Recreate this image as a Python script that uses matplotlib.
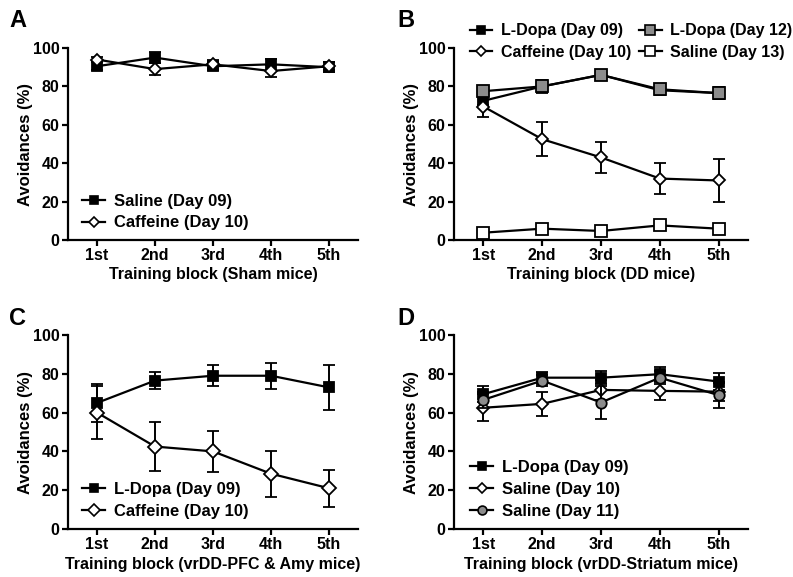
import numpy as np
import matplotlib
matplotlib.use("Agg")
import matplotlib.pyplot as plt
from matplotlib.lines import Line2D

plt.rcParams['font.family'] = ['Liberation Sans', 'DejaVu Sans']
plt.rcParams['font.weight'] = 'bold'

blocks = ["1st", "2nd", "3rd", "4th", "5th"]

# A - Sham mice
a_saline = [90.5, 95.0, 90.5, 91.5, 90.0]
a_saline_err = [2.0, 3.0, 2.0, 3.0, 2.5]
a_caff = [94.0, 89.0, 91.5, 88.0, 90.5]
a_caff_err = [1.5, 3.0, 2.0, 3.0, 2.0]

# B - DD mice
b_ldopa09 = [72.5, 80.0, 86.0, 78.0, 76.5]
b_ldopa09_err = [2.0, 3.0, 2.0, 2.5, 3.0]
b_caff = [69.5, 52.5, 43.0, 32.0, 31.0]
b_caff_err = [5.5, 9.0, 8.0, 8.0, 11.0]
b_ldopa12 = [77.5, 80.0, 86.0, 78.5, 76.5]
b_ldopa12_err = [2.0, 3.5, 2.0, 2.5, 3.0]
b_saline13 = [3.8, 5.9, 4.7, 7.6, 5.9]
b_saline13_err = [1.5, 1.5, 1.5, 2.0, 1.5]

# C - vrDD-PFC & Amy mice
c_ldopa = [65.0, 76.5, 79.0, 79.0, 73.0]
c_ldopa_err = [10.0, 4.2, 5.5, 6.6, 11.5]
c_caff = [60.0, 42.5, 40.0, 28.5, 21.0]
c_caff_err = [13.5, 12.5, 10.5, 11.8, 9.6]

# D - vrDD-Striatum mice
d_ldopa = [69.5, 78.0, 78.0, 79.8, 76.0]
d_ldopa_err = [4.0, 3.0, 3.5, 3.5, 4.5]
d_sal10 = [62.5, 64.5, 71.7, 71.2, 70.8]
d_sal10_err = [7.0, 6.0, 5.0, 4.5, 5.0]
d_sal11 = [66.6, 76.5, 65.2, 78.0, 69.0]
d_sal11_err = [4.0, 3.0, 8.5, 3.5, 6.5]

x = np.arange(1, 6)
W, H = 793, 577
fig = plt.figure(figsize=(W / 100, H / 100), dpi=100)

def px_axes(left, right, top, bottom):
    return fig.add_axes([left / W, 1 - bottom / H, (right - left) / W, (bottom - top) / H])

def series(ax, y, err, marker, face, ms=7, z=3):
    ax.errorbar(x, y, yerr=err, color='black', marker=marker, mfc=face, mec='black',
                ms=ms, mew=1.3, lw=1.6, capsize=4, elinewidth=1.4, capthick=1.4,
                zorder=z, clip_on=False)
    # plain handle for the legend (no error bar)
    return Line2D([], [], color='black', lw=1.6, marker=marker, mfc=face, mec='black',
                  ms=ms * 0.85, mew=1.2)

def style(ax, xlabel):
    ax.set_xlim(0.5, 5.5)
    ax.set_ylim(0, 100)
    ax.set_xticks(x)
    ax.set_xticklabels(blocks)
    ax.set_yticks(np.arange(0, 101, 20))
    for s in ['top', 'right']:
        ax.spines[s].set_visible(False)
    for s in ['left', 'bottom']:
        ax.spines[s].set_linewidth(1.6)
    ax.tick_params(width=1.6, length=4.5, labelsize=11.5, pad=1.5)
    ax.set_xlabel(xlabel, fontsize=11.5, fontweight='bold', labelpad=3)
    ax.set_ylabel("Avoidances (%)", fontsize=12, fontweight='bold', labelpad=0)

leg_kw = dict(frameon=False, handlelength=1.4, handletextpad=0.55,
              borderpad=0, borderaxespad=0, labelspacing=0.4)

# A
axA = px_axes(68, 358, 48, 240)
h1 = series(axA, a_saline, a_saline_err, 's', 'black', ms=6.5)
h2 = series(axA, a_caff, a_caff_err, 'D', 'white', ms=6.5, z=4)
style(axA, "Training block (Sham mice)")
axA.legend([h1, h2], ["Saline (Day 09)", "Caffeine (Day 10)"], fontsize=12,
           loc='lower left', bbox_to_anchor=(0.048, 0.05), **leg_kw)

# B
axB = px_axes(454, 748, 48, 240)
h1 = series(axB, b_ldopa09, b_ldopa09_err, 's', 'black', ms=6.5)
h2 = series(axB, b_caff, b_caff_err, 'D', 'white', ms=6.5, z=4)
h3 = series(axB, b_ldopa12, b_ldopa12_err, 's', '#8c8c8c', ms=8, z=5)
h4 = series(axB, b_saline13, b_saline13_err, 's', 'white', ms=8, z=4)
style(axB, "Training block (DD mice)")
axB.legend([h1, h2, h3, h4],
           ["L-Dopa (Day 09)", "Caffeine (Day 10)", "L-Dopa (Day 12)", "Saline (Day 13)"],
           fontsize=11.5, loc='center left', bbox_to_anchor=(0.054, 1.034), ncol=2,
           columnspacing=0.5, **leg_kw)

# C
axC = px_axes(68, 358, 335, 529)
h1 = series(axC, c_ldopa, c_ldopa_err, 's', 'black', ms=7)
h2 = series(axC, c_caff, c_caff_err, 'D', 'white', ms=7, z=4)
style(axC, "Training block (vrDD-PFC & Amy mice)")
axC.legend([h1, h2], ["L-Dopa (Day 09)", "Caffeine (Day 10)"], fontsize=12,
           loc='lower left', bbox_to_anchor=(0.048, 0.054), **leg_kw)

# D
axD = px_axes(454, 748, 335, 529)
h1 = series(axD, d_ldopa, d_ldopa_err, 's', 'black', ms=6.5)
h2 = series(axD, d_sal10, d_sal10_err, 'D', 'white', ms=6.5, z=4)
h3 = series(axD, d_sal11, d_sal11_err, 'o', '#8c8c8c', ms=7.5, z=5)
style(axD, "Training block (vrDD-Striatum mice)")
axD.legend([h1, h2, h3], ["L-Dopa (Day 09)", "Saline (Day 10)", "Saline (Day 11)"],
           fontsize=12, loc='lower left', bbox_to_anchor=(0.054, 0.054), **leg_kw)

for lab, px, py in [("A", 9, 9), ("B", 397, 9), ("C", 9, 307), ("D", 397, 307)]:
    fig.text(px / W, 1 - py / H, lab, fontsize=17, fontweight='bold', va='top', ha='left')

fig.savefig("out.png", dpi=100)
